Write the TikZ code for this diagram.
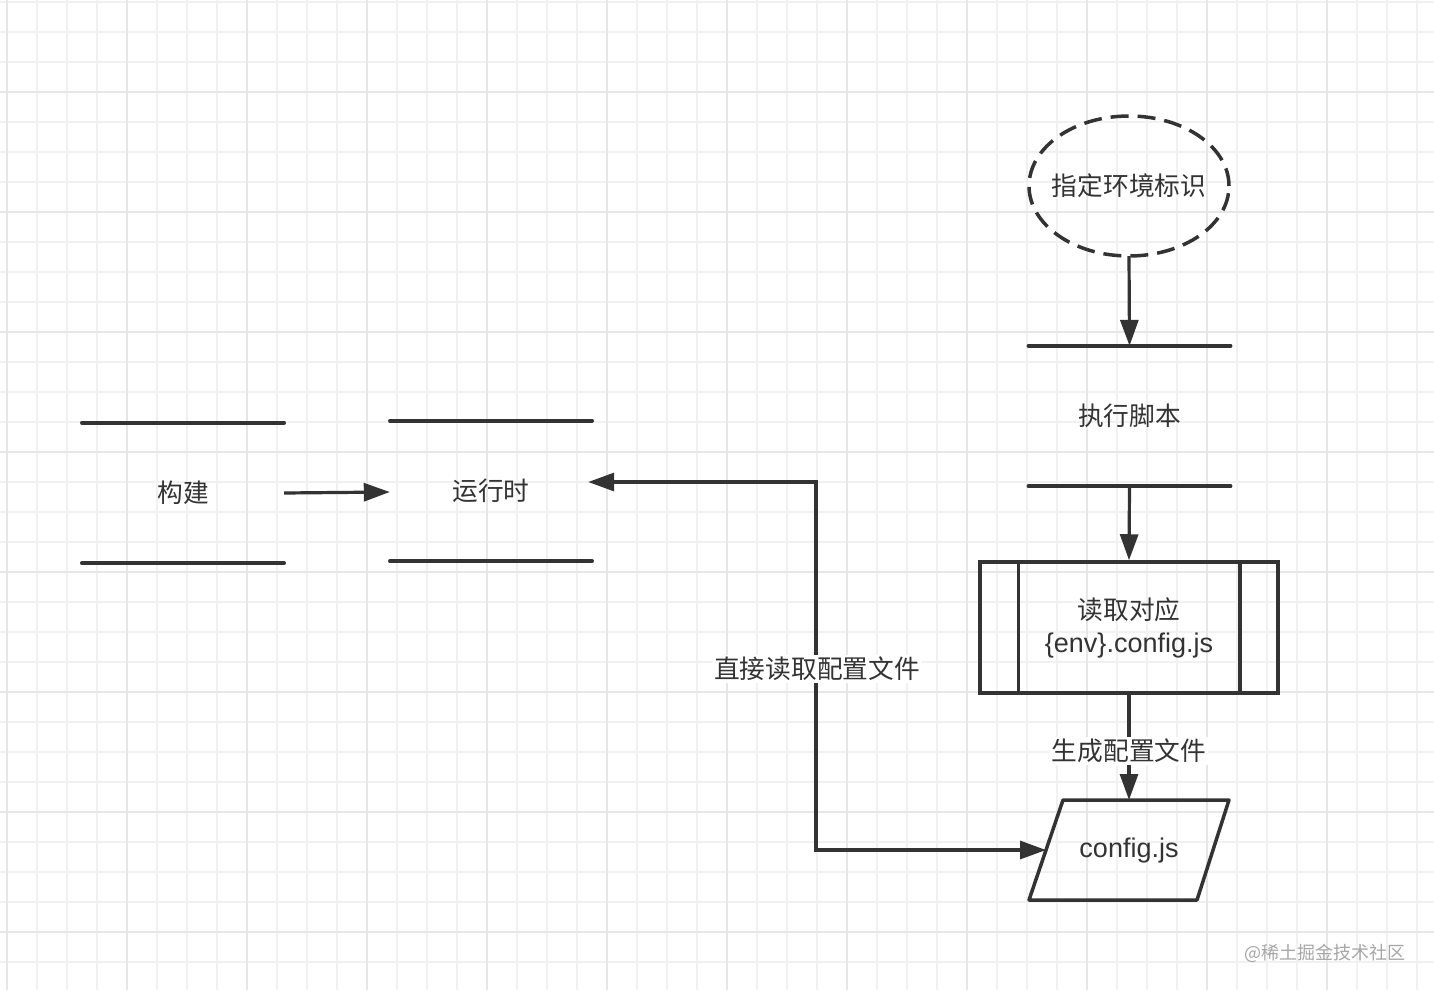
\documentclass[tikz,border=0pt]{standalone}
\usepackage{fontspec}
\setmainfont{Noto Sans CJK SC}
\newfontfamily\latfont{Liberation Sans}
\usetikzlibrary{arrows.meta,shapes.geometric}
\definecolor{ink}{HTML}{333333}
\definecolor{gridminor}{HTML}{F1F1F1}
\definecolor{gridmajor}{HTML}{E6E6E6}
\definecolor{wm}{HTML}{A6A6A6}
\tikzset{
  conn/.style={draw=ink, line width=3.2pt, -{Triangle[length=26pt,width=18pt]}},
  store/.style={minimum width=202pt, minimum height=140pt, inner sep=0pt, text=ink},
  storeline/.style={draw=ink, line width=3.5pt, line cap=round},
  txt/.style={text=ink, font=\fontsize{25.7}{33}\selectfont},
  lat/.style={font=\fontsize{27}{33}\selectfont\latfont},
}
\begin{document}
\begin{tikzpicture}[x=1pt,y=-1pt]
\useasboundingbox (0,0) rectangle (1434,990);
\fill[white] (0,0) rectangle (1434,990);
% grid
\foreach \i in {0,...,47}{\draw[gridminor, line width=1.6pt] (6.7+30*\i,0) -- (6.7+30*\i,990);}
\foreach \j in {0,...,32}{\draw[gridminor, line width=1.6pt] (0,2+30*\j) -- (1434,2+30*\j);}
\foreach \i in {0,...,11}{\draw[gridmajor, line width=1.8pt] (6.7+120*\i,0) -- (6.7+120*\i,990);}
\foreach \j in {0,...,7}{\draw[gridmajor, line width=1.8pt] (0,92+120*\j) -- (1434,92+120*\j);}

% data stores
\node[store, txt] (a) at (183,493) {构建};
\draw[storeline] (a.north west) -- (a.north east);
\draw[storeline] (a.south west) -- (a.south east);
\node[store, txt] (b) at (491,491) {运行时};
\draw[storeline] (b.north west) -- (b.north east);
\draw[storeline] (b.south west) -- (b.south east);
\node[store, txt] (c) at (1129.5,416) {执行脚本};
\draw[storeline] (c.north west) -- (c.north east);
\draw[storeline] (c.south west) -- (c.south east);

% ellipse
\node[txt] (s) at (1129,186) {指定环境标识};
\draw[draw=ink, line width=3.5pt, dash pattern=on 18pt off 9pt] (s.center) ellipse [x radius=100pt, y radius=70pt];
\coordinate (sS) at (1129,256);

% process box
\node[draw=ink, line width=3.5pt, minimum width=298pt, minimum height=131pt, inner sep=0pt, txt, align=center]
  (d) at (1129,627.5) {读取对应\\{\fontsize{27}{33}\selectfont\latfont \{env\}.config.js}};
\draw[draw=ink, line width=3.5pt] ([xshift=40pt]d.north west) -- ([xshift=40pt]d.south west);
\draw[draw=ink, line width=3.5pt] ([xshift=-40pt]d.north east) -- ([xshift=-40pt]d.south east);

% parallelogram
\coordinate (p1) at (1063,800);
\coordinate (p2) at (1229,800);
\coordinate (p3) at (1197,900);
\coordinate (p4) at (1029,900);
\draw[draw=ink, line width=3.5pt, line join=round] (p1) -- (p2) -- (p3) -- (p4) -- cycle;
\node[text=ink, lat] (e) at (1129,851) {config.js};
\coordinate (eT) at (1129,800);
\coordinate (eL) at (1046,850);

% connectors
\draw[conn] (a.east) -- ([yshift=-1pt]b.west);
\draw[conn] (sS) -- (c.north);
\draw[conn] (c.south) -- (d.north);
\draw[conn] (d.south) -- node[pos=0.53, fill=white, inner sep=2pt, txt] (lg) {生成配置文件} (eT);
\coordinate (j1) at (816,482);
\coordinate (j2) at (816,850);
\draw[conn, {Triangle[length=26pt,width=18pt]}-{Triangle[length=26pt,width=18pt]}, line join=miter]
  ([xshift=-4pt,yshift=9pt]b.east) -- (j1) -- (j2) -- (eL);
\node[fill=white, inner sep=2pt, txt] (ld) at (817,669) {直接读取配置文件};

% watermark
\node[text=wm, font=\fontsize{18}{20}\selectfont, anchor=east] (wmk) at (1409,953) {@稀土掘金技术社区};
\end{tikzpicture}
\end{document}
